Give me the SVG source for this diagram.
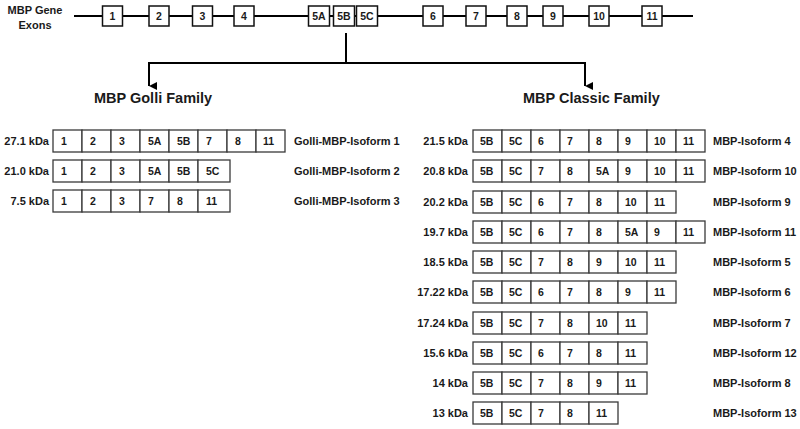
<svg xmlns="http://www.w3.org/2000/svg" width="800" height="429" viewBox="0 0 800 429">
<defs>
<style>
text{font-family:"Liberation Sans",Arial,sans-serif;font-weight:bold;fill:#1a1a1a}
.lbl{font-size:11px}
.cell{font-size:10.5px}
.ttl{font-size:14.5px}
.ex{fill:#fff;stroke:#111;stroke-width:1.5}
.c{fill:#fff;stroke:#3a3a3a;stroke-width:1.3}
.ln{fill:none;stroke:#000;stroke-width:2}
.r{text-anchor:end}
.m{text-anchor:middle}
</style>
<marker id="ah" viewBox="0 0 10 10" refX="5" refY="10" markerWidth="8" markerHeight="8" markerUnits="userSpaceOnUse" orient="auto-start-reverse">
<path d="M0,0 L10,0 L5,10 Z" fill="#000"/>
</marker>
</defs>
<rect width="800" height="429" fill="#fff"/>

<g id="connectors">
<line class="ln" x1="74" y1="16" x2="693" y2="16"/>
<line class="ln" x1="346" y1="33" x2="346" y2="63"/>
<path class="ln" d="M149,86 V63 H585 V86" marker-start="url(#ah)" marker-end="url(#ah)" stroke-linejoin="miter"/>
</g>

<g id="gene-label">
<text class="lbl m" x="35" y="14">MBP Gene</text>
<text class="lbl m" x="35" y="29">Exons</text>
</g>

<g id="gene-exons">
<g id="ex1"><rect class="ex" x="102.5" y="6" width="20" height="20"/><text class="cell m" x="112.5" y="20">1</text></g>
<g id="ex2"><rect class="ex" x="149" y="6" width="20" height="20"/><text class="cell m" x="159" y="20">2</text></g>
<g id="ex3"><rect class="ex" x="192.5" y="6" width="20" height="20"/><text class="cell m" x="202.5" y="20">3</text></g>
<g id="ex4"><rect class="ex" x="234" y="6" width="20" height="20"/><text class="cell m" x="244" y="20">4</text></g>
<g id="ex5A"><rect class="ex" x="308.5" y="6" width="21" height="20"/><text class="cell m" x="319" y="20">5A</text></g>
<g id="ex5B"><rect class="ex" x="333.5" y="6" width="21" height="20"/><text class="cell m" x="344" y="20">5B</text></g>
<g id="ex5C"><rect class="ex" x="356.5" y="6" width="21" height="20"/><text class="cell m" x="367" y="20">5C</text></g>
<g id="ex6"><rect class="ex" x="423" y="6" width="20" height="20"/><text class="cell m" x="433" y="20">6</text></g>
<g id="ex7"><rect class="ex" x="466" y="6" width="20" height="20"/><text class="cell m" x="476" y="20">7</text></g>
<g id="ex8"><rect class="ex" x="507" y="6" width="20" height="20"/><text class="cell m" x="517" y="20">8</text></g>
<g id="ex9"><rect class="ex" x="543" y="6" width="20" height="20"/><text class="cell m" x="553" y="20">9</text></g>
<g id="ex10"><rect class="ex" x="589" y="6" width="20" height="20"/><text class="cell m" x="599" y="20">10</text></g>
<g id="ex11"><rect class="ex" x="642" y="6" width="20" height="20"/><text class="cell m" x="652" y="20">11</text></g>
</g>

<g id="title-golli"><text class="ttl" x="94" y="103">MBP Golli Family</text></g>
<g id="title-classic"><text class="ttl" x="523" y="103">MBP Classic Family</text></g>

<!-- Golli family -->
<g id="golli-1">
<text class="lbl r" x="49" y="145">27.1 kDa</text>
<rect class="c" x="53" y="130" width="29" height="22"/><text class="cell" x="61" y="145">1</text>
<rect class="c" x="82" y="130" width="29" height="22"/><text class="cell" x="90" y="145">2</text>
<rect class="c" x="111" y="130" width="29" height="22"/><text class="cell" x="119" y="145">3</text>
<rect class="c" x="140" y="130" width="29" height="22"/><text class="cell" x="148" y="145">5A</text>
<rect class="c" x="169" y="130" width="29" height="22"/><text class="cell" x="177" y="145">5B</text>
<rect class="c" x="198" y="130" width="29" height="22"/><text class="cell" x="206" y="145">7</text>
<rect class="c" x="227" y="130" width="29" height="22"/><text class="cell" x="235" y="145">8</text>
<rect class="c" x="256" y="130" width="29" height="22"/><text class="cell" x="263" y="145">11</text>
<text class="lbl" x="294" y="145">Golli-MBP-Isoform 1</text>
</g>
<g id="golli-2">
<text class="lbl r" x="49" y="175">21.0 kDa</text>
<rect class="c" x="53" y="160" width="29" height="22"/><text class="cell" x="61" y="175">1</text>
<rect class="c" x="82" y="160" width="29" height="22"/><text class="cell" x="90" y="175">2</text>
<rect class="c" x="111" y="160" width="29" height="22"/><text class="cell" x="119" y="175">3</text>
<rect class="c" x="140" y="160" width="29" height="22"/><text class="cell" x="148" y="175">5A</text>
<rect class="c" x="169" y="160" width="29" height="22"/><text class="cell" x="177" y="175">5B</text>
<rect class="c" x="198" y="160" width="32" height="22"/><text class="cell" x="206" y="175">5C</text>
<text class="lbl" x="294" y="175">Golli-MBP-Isoform 2</text>
</g>
<g id="golli-3">
<text class="lbl r" x="49" y="205">7.5 kDa</text>
<rect class="c" x="53" y="190" width="29" height="22"/><text class="cell" x="61" y="205">1</text>
<rect class="c" x="82" y="190" width="29" height="22"/><text class="cell" x="90" y="205">2</text>
<rect class="c" x="111" y="190" width="29" height="22"/><text class="cell" x="119" y="205">3</text>
<rect class="c" x="140" y="190" width="29" height="22"/><text class="cell" x="148" y="205">7</text>
<rect class="c" x="169" y="190" width="29" height="22"/><text class="cell" x="177" y="205">8</text>
<rect class="c" x="198" y="190" width="32" height="22"/><text class="cell" x="206" y="205">11</text>
<text class="lbl" x="294" y="205">Golli-MBP-Isoform 3</text>
</g>

<!-- Classic family -->
<g id="classic-4">
<text class="lbl r" x="468" y="145">21.5 kDa</text>
<rect class="c" x="473" y="130" width="29" height="22"/><text class="cell" x="480" y="145">5B</text>
<rect class="c" x="502" y="130" width="29" height="22"/><text class="cell" x="509" y="145">5C</text>
<rect class="c" x="531" y="130" width="29" height="22"/><text class="cell" x="538" y="145">6</text>
<rect class="c" x="560" y="130" width="29" height="22"/><text class="cell" x="567" y="145">7</text>
<rect class="c" x="589" y="130" width="29" height="22"/><text class="cell" x="596" y="145">8</text>
<rect class="c" x="618" y="130" width="29" height="22"/><text class="cell" x="625" y="145">9</text>
<rect class="c" x="647" y="130" width="29" height="22"/><text class="cell" x="654" y="145">10</text>
<rect class="c" x="676" y="130" width="29" height="22"/><text class="cell" x="683" y="145">11</text>
<text class="lbl" x="713" y="145">MBP-Isoform 4</text>
</g>
<g id="classic-10">
<text class="lbl r" x="468" y="175">20.8 kDa</text>
<rect class="c" x="473" y="160" width="29" height="22"/><text class="cell" x="480" y="175">5B</text>
<rect class="c" x="502" y="160" width="29" height="22"/><text class="cell" x="509" y="175">5C</text>
<rect class="c" x="531" y="160" width="29" height="22"/><text class="cell" x="538" y="175">7</text>
<rect class="c" x="560" y="160" width="29" height="22"/><text class="cell" x="567" y="175">8</text>
<rect class="c" x="589" y="160" width="29" height="22"/><text class="cell" x="596" y="175">5A</text>
<rect class="c" x="618" y="160" width="29" height="22"/><text class="cell" x="625" y="175">9</text>
<rect class="c" x="647" y="160" width="29" height="22"/><text class="cell" x="654" y="175">10</text>
<rect class="c" x="676" y="160" width="29" height="22"/><text class="cell" x="683" y="175">11</text>
<text class="lbl" x="713" y="175">MBP-Isoform 10</text>
</g>
<g id="classic-9">
<text class="lbl r" x="468" y="206">20.2 kDa</text>
<rect class="c" x="473" y="191" width="29" height="22"/><text class="cell" x="480" y="206">5B</text>
<rect class="c" x="502" y="191" width="29" height="22"/><text class="cell" x="509" y="206">5C</text>
<rect class="c" x="531" y="191" width="29" height="22"/><text class="cell" x="538" y="206">6</text>
<rect class="c" x="560" y="191" width="29" height="22"/><text class="cell" x="567" y="206">7</text>
<rect class="c" x="589" y="191" width="29" height="22"/><text class="cell" x="596" y="206">8</text>
<rect class="c" x="618" y="191" width="29" height="22"/><text class="cell" x="625" y="206">10</text>
<rect class="c" x="647" y="191" width="29" height="22"/><text class="cell" x="654" y="206">11</text>
<text class="lbl" x="713" y="206">MBP-Isoform 9</text>
</g>
<g id="classic-11">
<text class="lbl r" x="468" y="236">19.7 kDa</text>
<rect class="c" x="473" y="221" width="29" height="22"/><text class="cell" x="480" y="236">5B</text>
<rect class="c" x="502" y="221" width="29" height="22"/><text class="cell" x="509" y="236">5C</text>
<rect class="c" x="531" y="221" width="29" height="22"/><text class="cell" x="538" y="236">6</text>
<rect class="c" x="560" y="221" width="29" height="22"/><text class="cell" x="567" y="236">7</text>
<rect class="c" x="589" y="221" width="29" height="22"/><text class="cell" x="596" y="236">8</text>
<rect class="c" x="618" y="221" width="29" height="22"/><text class="cell" x="625" y="236">5A</text>
<rect class="c" x="647" y="221" width="29" height="22"/><text class="cell" x="654" y="236">9</text>
<rect class="c" x="676" y="221" width="29" height="22"/><text class="cell" x="683" y="236">11</text>
<text class="lbl" x="713" y="236">MBP-Isoform 11</text>
</g>
<g id="classic-5">
<text class="lbl r" x="468" y="266">18.5 kDa</text>
<rect class="c" x="473" y="251" width="29" height="22"/><text class="cell" x="480" y="266">5B</text>
<rect class="c" x="502" y="251" width="29" height="22"/><text class="cell" x="509" y="266">5C</text>
<rect class="c" x="531" y="251" width="29" height="22"/><text class="cell" x="538" y="266">7</text>
<rect class="c" x="560" y="251" width="29" height="22"/><text class="cell" x="567" y="266">8</text>
<rect class="c" x="589" y="251" width="29" height="22"/><text class="cell" x="596" y="266">9</text>
<rect class="c" x="618" y="251" width="29" height="22"/><text class="cell" x="625" y="266">10</text>
<rect class="c" x="647" y="251" width="29" height="22"/><text class="cell" x="654" y="266">11</text>
<text class="lbl" x="713" y="266">MBP-Isoform 5</text>
</g>
<g id="classic-6">
<text class="lbl r" x="468" y="296">17.22 kDa</text>
<rect class="c" x="473" y="281" width="29" height="22"/><text class="cell" x="480" y="296">5B</text>
<rect class="c" x="502" y="281" width="29" height="22"/><text class="cell" x="509" y="296">5C</text>
<rect class="c" x="531" y="281" width="29" height="22"/><text class="cell" x="538" y="296">6</text>
<rect class="c" x="560" y="281" width="29" height="22"/><text class="cell" x="567" y="296">7</text>
<rect class="c" x="589" y="281" width="29" height="22"/><text class="cell" x="596" y="296">8</text>
<rect class="c" x="618" y="281" width="29" height="22"/><text class="cell" x="625" y="296">9</text>
<rect class="c" x="647" y="281" width="29" height="22"/><text class="cell" x="654" y="296">11</text>
<text class="lbl" x="713" y="296">MBP-Isoform 6</text>
</g>
<g id="classic-7">
<text class="lbl r" x="468" y="327">17.24 kDa</text>
<rect class="c" x="473" y="312" width="29" height="22"/><text class="cell" x="480" y="327">5B</text>
<rect class="c" x="502" y="312" width="29" height="22"/><text class="cell" x="509" y="327">5C</text>
<rect class="c" x="531" y="312" width="29" height="22"/><text class="cell" x="538" y="327">7</text>
<rect class="c" x="560" y="312" width="29" height="22"/><text class="cell" x="567" y="327">8</text>
<rect class="c" x="589" y="312" width="29" height="22"/><text class="cell" x="596" y="327">10</text>
<rect class="c" x="618" y="312" width="29" height="22"/><text class="cell" x="625" y="327">11</text>
<text class="lbl" x="713" y="327">MBP-Isoform 7</text>
</g>
<g id="classic-12">
<text class="lbl r" x="468" y="357">15.6 kDa</text>
<rect class="c" x="473" y="342" width="29" height="22"/><text class="cell" x="480" y="357">5B</text>
<rect class="c" x="502" y="342" width="29" height="22"/><text class="cell" x="509" y="357">5C</text>
<rect class="c" x="531" y="342" width="29" height="22"/><text class="cell" x="538" y="357">6</text>
<rect class="c" x="560" y="342" width="29" height="22"/><text class="cell" x="567" y="357">7</text>
<rect class="c" x="589" y="342" width="29" height="22"/><text class="cell" x="596" y="357">8</text>
<rect class="c" x="618" y="342" width="29" height="22"/><text class="cell" x="625" y="357">11</text>
<text class="lbl" x="713" y="357">MBP-Isoform 12</text>
</g>
<g id="classic-8">
<text class="lbl r" x="468" y="387">14 kDa</text>
<rect class="c" x="473" y="372" width="29" height="22"/><text class="cell" x="480" y="387">5B</text>
<rect class="c" x="502" y="372" width="29" height="22"/><text class="cell" x="509" y="387">5C</text>
<rect class="c" x="531" y="372" width="29" height="22"/><text class="cell" x="538" y="387">7</text>
<rect class="c" x="560" y="372" width="29" height="22"/><text class="cell" x="567" y="387">8</text>
<rect class="c" x="589" y="372" width="29" height="22"/><text class="cell" x="596" y="387">9</text>
<rect class="c" x="618" y="372" width="29" height="22"/><text class="cell" x="625" y="387">11</text>
<text class="lbl" x="713" y="387">MBP-Isoform 8</text>
</g>
<g id="classic-13">
<text class="lbl r" x="468" y="417">13 kDa</text>
<rect class="c" x="473" y="402" width="29" height="22"/><text class="cell" x="480" y="417">5B</text>
<rect class="c" x="502" y="402" width="29" height="22"/><text class="cell" x="509" y="417">5C</text>
<rect class="c" x="531" y="402" width="29" height="22"/><text class="cell" x="538" y="417">7</text>
<rect class="c" x="560" y="402" width="29" height="22"/><text class="cell" x="567" y="417">8</text>
<rect class="c" x="589" y="402" width="29" height="22"/><text class="cell" x="596" y="417">11</text>
<text class="lbl" x="713" y="417">MBP-Isoform 13</text>
</g>
</svg>
